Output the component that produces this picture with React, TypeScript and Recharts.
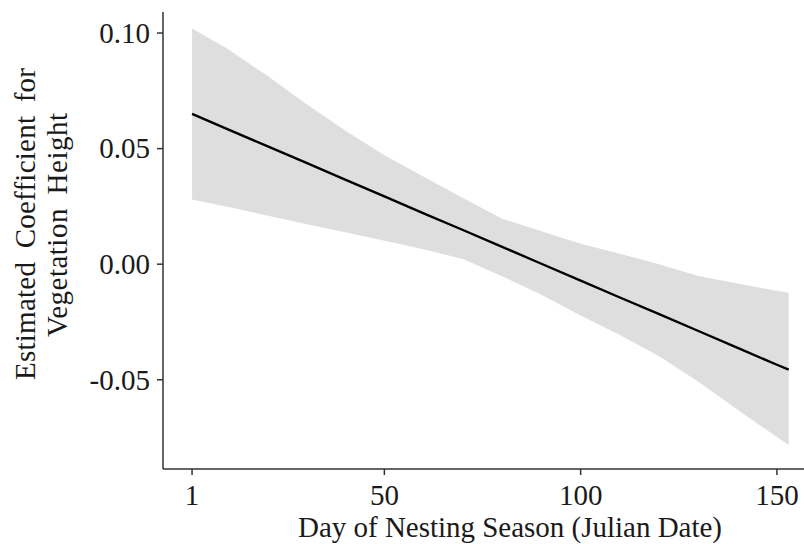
import { ComposedChart, Area, Line, XAxis, YAxis } from "recharts";

// Day of nesting season (Julian date) sampled along the fitted curve
const days = [1, 10, 20, 30, 40, 50, 60, 70, 80, 90, 100, 110, 120, 130, 140, 150, 153];
// Estimated coefficient for vegetation height
const estimate = [
  0.065, 0.0584, 0.0512, 0.0439, 0.0366, 0.0293, 0.022, 0.0148, 0.0075, 0.0002, -0.0071,
  -0.0144, -0.0216, -0.0289, -0.0362, -0.0435, -0.0456,
];
// Confidence band
const upper = [
  0.102, 0.0932, 0.0817, 0.0694, 0.0578, 0.0471, 0.0378, 0.0286, 0.0197, 0.0143, 0.0088,
  0.0045, 0.0, -0.0051, -0.0084, -0.0115, -0.0124,
];
const lower = [
  0.028, 0.0248, 0.0211, 0.0174, 0.0138, 0.0101, 0.0065, 0.0022, -0.0052, -0.0132, -0.0222,
  -0.0306, -0.0398, -0.0509, -0.063, -0.0748, -0.0782,
];

const xTicks = [1, 50, 100, 150];
const yTicks = [-0.05, 0, 0.05, 0.1];

const FONT = "'Liberation Serif', 'Times New Roman', serif";
const FONT_SIZE = 29;
const INK = "#1a1a1a";

const chartData = days.map((d, i) => ({
  day: d,
  estimate: estimate[i],
  band: [lower[i], upper[i]],
}));

function XTick({ x, payload }: any) {
  return (
    <text x={x} y={505} textAnchor="middle" fontFamily={FONT} fontSize={FONT_SIZE} fill={INK}>
      {payload.value}
    </text>
  );
}

function YTick({ x, y, payload }: any) {
  return (
    <text x={x} y={y} dy="0.34em" textAnchor="end" fontFamily={FONT} fontSize={FONT_SIZE} fill={INK}>
      {payload.value.toFixed(2)}
    </text>
  );
}

export default function App() {
  return (
    <div style={{ position: "absolute", left: 0, top: 0, width: 804, height: 544, background: "#fff" }}>
      <ComposedChart
        width={804}
        height={544}
        data={chartData}
        margin={{ top: 12, right: 0, bottom: 0, left: 0 }}
      >
        <XAxis
          dataKey="day"
          type="number"
          domain={[-6.4, 156.9]}
          ticks={xTicks}
          tick={<XTick />}
          tickSize={6}
          tickMargin={6}
          stroke="#333"
          strokeWidth={1.5}
          height={75}
          allowDataOverflow
        />
        <YAxis
          type="number"
          domain={[-0.0886, 0.1091]}
          ticks={yTicks}
          tick={<YTick />}
          tickSize={6}
          tickMargin={7}
          stroke="#333"
          strokeWidth={1.5}
          width={163}
          allowDataOverflow
        />
        <Area
          dataKey="band"
          type="linear"
          stroke="none"
          fill="#dedede"
          fillOpacity={1}
          isAnimationActive={false}
        />
        <Line
          dataKey="estimate"
          type="linear"
          stroke="#000"
          strokeWidth={2.4}
          dot={false}
          isAnimationActive={false}
        />
      </ComposedChart>
      <svg
        width={804}
        height={544}
        style={{ position: "absolute", left: 0, top: 0, pointerEvents: "none" }}
      >
        <text
          transform="translate(35,224) rotate(-90)"
          textAnchor="middle"
          textLength={312}
          lengthAdjust="spacing"
          wordSpacing={6}
          fontFamily={FONT}
          fontSize={FONT_SIZE}
          fill={INK}
        >
          Estimated Coefficient for
        </text>
        <text
          transform="translate(67,225) rotate(-90)"
          textAnchor="middle"
          textLength={224}
          lengthAdjust="spacing"
          wordSpacing={6}
          fontFamily={FONT}
          fontSize={FONT_SIZE}
          fill={INK}
        >
          Vegetation Height
        </text>
        <text
          x={510}
          y={537}
          textAnchor="middle"
          textLength={424}
          lengthAdjust="spacing"
          fontFamily={FONT}
          fontSize={FONT_SIZE}
          fill={INK}
        >
          Day of Nesting Season (Julian Date)
        </text>
      </svg>
    </div>
  );
}
